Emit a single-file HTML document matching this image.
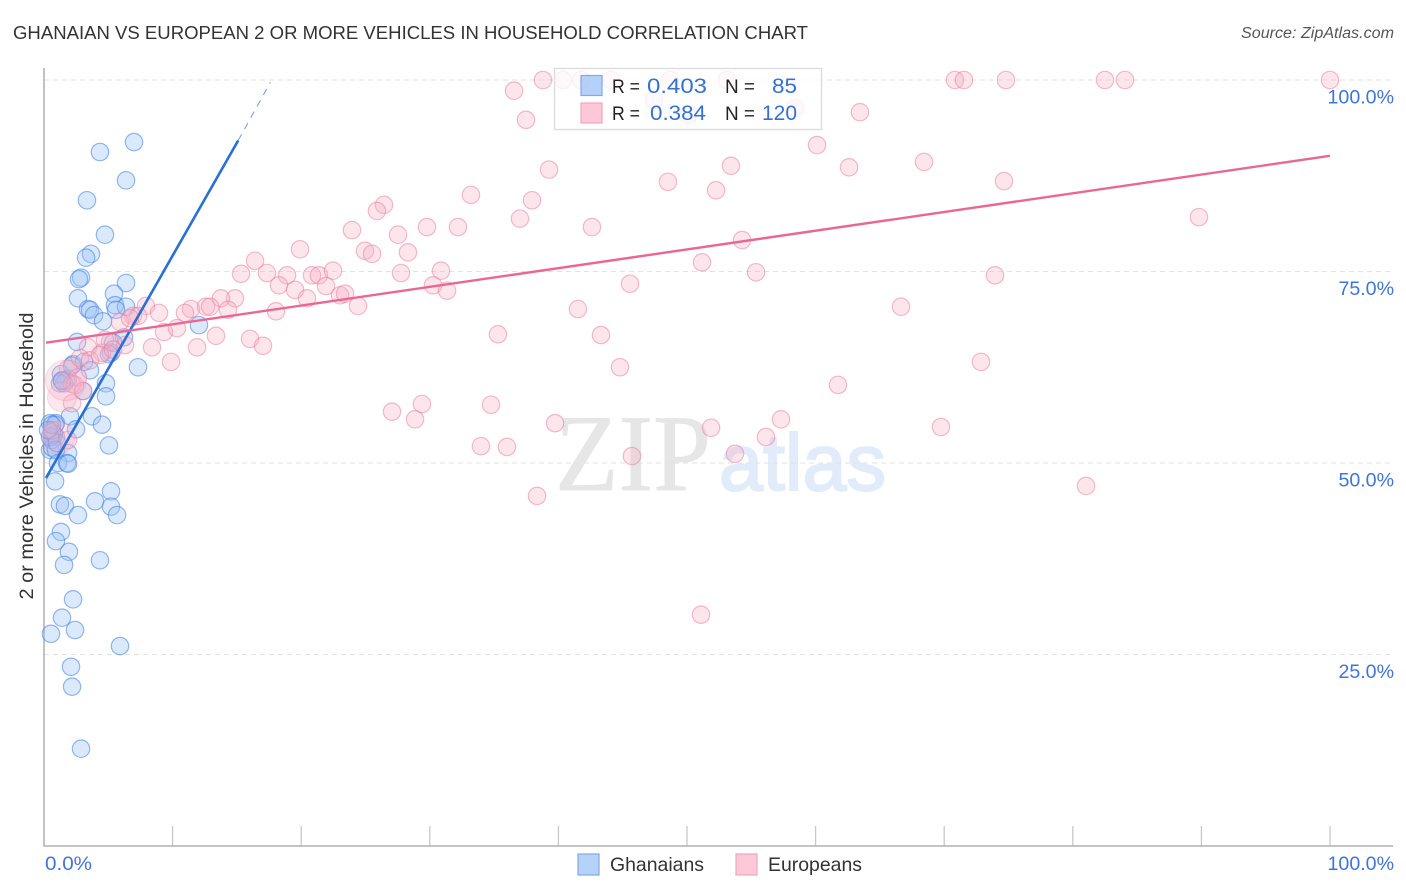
<!DOCTYPE html>
<html lang="en">
<head>
<meta charset="utf-8">
<title>Ghanaian vs European 2 or More Vehicles in Household Correlation Chart</title>
<style>
html,body{margin:0;padding:0;background:#fff;}
svg{display:block;font-family:"Liberation Sans",sans-serif;}
</style>
</head>
<body>
<svg id="chart" width="1406" height="892" viewBox="0 0 1406 892" xmlns="http://www.w3.org/2000/svg">
  <rect x="0" y="0" width="1406" height="892" fill="#fff"/>
  <text x="13" y="39" font-size="18.5" fill="#333" textLength="795" lengthAdjust="spacingAndGlyphs">GHANAIAN VS EUROPEAN 2 OR MORE VEHICLES IN HOUSEHOLD CORRELATION CHART</text>
  <text x="1241" y="38" font-size="15.5" font-style="italic" fill="#555" textLength="153" lengthAdjust="spacingAndGlyphs">Source: ZipAtlas.com</text>
  <text x="555" y="490" font-family="'Liberation Serif',serif" font-size="109" fill="#e6e6e6" stroke="#e6e6e6" stroke-width="0.8" textLength="156" lengthAdjust="spacingAndGlyphs">ZIP</text>
  <text x="719" y="490" font-size="80" fill="#e2ebfa" stroke="#e2ebfa" stroke-width="2" textLength="167" lengthAdjust="spacingAndGlyphs">atlas</text>
  <g id="grid"></g>
  <g id="axes"></g>
  <g id="marks-ghanaians"></g>
  <g id="marks-europeans"></g>
  <g id="trends"></g>
  <g id="tick-labels"></g>
  <text transform="translate(33,456) rotate(-90)" font-size="19" fill="#333" text-anchor="middle" textLength="287" lengthAdjust="spacingAndGlyphs">2 or more Vehicles in Household</text>

  <g>
    <rect x="554.5" y="68.5" width="267" height="61" fill="#fff" fill-opacity="0.78" stroke="#dddddd" stroke-width="1.4"/>
    <rect x="581" y="75.5" width="21" height="20" fill="#9cc2f7" fill-opacity="0.75" stroke="#7fa9e8" stroke-width="1.2"/>
    <rect x="581" y="103" width="21" height="20" fill="#fbbdd0" fill-opacity="0.85" stroke="#f2a5bd" stroke-width="1.2"/>
    <text x="612" y="93" font-size="19" fill="#222" textLength="28" lengthAdjust="spacingAndGlyphs">R =</text>
    <text x="647" y="93" font-size="21" fill="#3470d6" textLength="60" lengthAdjust="spacingAndGlyphs">0.403</text>
    <text x="725" y="93" font-size="19" fill="#222" textLength="30" lengthAdjust="spacingAndGlyphs">N =</text>
    <text x="772" y="93" font-size="21" fill="#3470d6" textLength="25" lengthAdjust="spacingAndGlyphs">85</text>
    <text x="612" y="120" font-size="19" fill="#222" textLength="28" lengthAdjust="spacingAndGlyphs">R =</text>
    <text x="650" y="120" font-size="21" fill="#3470d6" textLength="56" lengthAdjust="spacingAndGlyphs">0.384</text>
    <text x="725" y="120" font-size="19" fill="#222" textLength="30" lengthAdjust="spacingAndGlyphs">N =</text>
    <text x="762" y="120" font-size="21" fill="#3470d6" textLength="35" lengthAdjust="spacingAndGlyphs">120</text>
  </g>

  <g>
    <rect x="578" y="854" width="21" height="21" fill="#b5d2f9" stroke="#7fa9e8" stroke-width="1.2"/>
    <text x="610" y="871" font-size="19.5" fill="#333" textLength="94" lengthAdjust="spacingAndGlyphs">Ghanaians</text>
    <rect x="736" y="854" width="21" height="21" fill="#fdc9d9" stroke="#f2a5bd" stroke-width="1.2"/>
    <text x="768" y="871" font-size="19.5" fill="#333" textLength="94" lengthAdjust="spacingAndGlyphs">Europeans</text>
  </g>
</svg>

<script>
const yTickValues = [25, 50, 75, 100];
const yTickLabels = ["25.0%", "50.0%", "75.0%", "100.0%"];
const xTickValues = [10, 20, 30, 40, 50, 60, 70, 80, 90, 100];
const xEndValues = [0, 100];
const xEndLabels = ["0.0%", "100.0%"];

const ghanaianX = [7.0,4.35,6.38,3.34,4.74,3.65,3.27,2.88,2.72,6.38,2.64,5.44,5.52,6.38,3.42,3.58,5.6,3.89,4.59,12.05,2.57,6.22,5.37,5.21,5.05,7.31,2.26,3.11,3.58,1.32,1.87,1.24,1.71,1.56,4.82,4.82,3.03,3.73,2.02,0.93,2.49,4.51,0.47,0.86,0.62,0.7,0.93,0.47,0.62,5.05,1.87,1.09,1.79,1.87,0.86,5.21,3.97,1.24,1.63,5.21,2.64,5.68,1.32,0.93,1.94,4.35,1.56,2.26,1.4,2.41,0.54,5.91,2.1,2.18,2.88,0.62,0.78,0.47,0.93,1.01,2.18,1.4,0.31,0.62,1.4];
const ghanaianY = [91.9,90.6,86.9,84.3,79.8,77.3,76.8,74.2,74.0,73.5,71.5,72.1,70.6,70.4,70.1,70.0,70.0,69.3,68.5,68.0,65.8,66.4,65.7,64.4,64.2,62.5,62.9,63.2,62.1,61.6,61.0,60.4,60.8,60.4,60.4,58.7,59.4,56.1,56.1,55.2,54.4,55.0,55.2,55.0,54.0,53.4,53.4,51.7,52.0,52.3,51.3,50.0,50.0,49.9,47.6,46.3,45.0,44.6,44.4,44.3,43.2,43.2,41.0,39.8,38.4,37.3,36.7,32.2,29.8,28.2,27.7,26.1,23.4,20.8,12.7,53.0,53.7,53.4,51.7,52.6,62.7,60.8,54.3,55.0,60.7];

const europeanX = [38.8,40.36,41.76,44.09,48.68,53.11,70.84,71.54,74.8,82.5,84.06,100,47.43,50.08,58.4,63.45,36.55,37.48,60.11,39.27,48.52,53.42,52.26,62.6,68.43,74.65,89.81,33.2,37.95,37.01,26.44,25.89,23.95,27.53,29.78,32.19,42.61,54.28,51.17,19.91,16.41,24.96,25.51,28.3,15.32,17.34,18.9,20.84,21.38,22.47,27.76,30.87,55.37,73.95,18.27,19.52,21.93,23.02,23.41,30.25,31.34,45.57,14.85,13.76,11.43,12.6,12.91,14.31,20.45,18.04,24.42,7.93,8.94,10.96,6.92,7.31,5.91,41.52,66.64,9.33,10.34,13.37,16.02,17.03,11.9,8.4,35.3,43.31,5.13,4.51,3.42,9.88,44.79,72.86,1.87,2.8,3.58,2.64,2.18,3.03,61.74,27.06,29.39,28.85,34.76,2.18,57.31,39.74,51.87,56.14,69.75,33.98,36.0,45.72,53.73,38.34,81.03,51.09,0.62,6.3,4.74,2.41,4.35,6.69,5.37,1.87];
const europeanY = [100,100,100,100,100,100,100,100,100,100,100,100,97.4,95.4,96.3,95.8,98.6,94.8,91.5,88.3,86.7,88.8,85.6,88.6,89.3,86.8,82.1,85.0,84.3,81.9,83.7,82.9,80.4,79.8,80.8,80.8,80.8,79.1,76.2,77.9,76.4,77.7,77.3,77.5,74.7,74.8,74.5,74.5,74.5,75.1,74.8,75.1,74.9,74.5,73.2,72.6,73.1,71.9,72.1,73.2,72.5,73.4,71.5,71.5,70.1,70.4,70.4,70.0,71.5,69.8,70.5,70.5,69.6,69.6,69.2,69.2,68.4,70.1,70.4,67.1,67.6,66.6,66.2,65.3,65.1,65.1,66.8,66.7,65.8,64.4,65.1,63.2,62.5,63.2,62.3,63.7,63.4,61.2,60.3,59.4,60.2,56.7,57.7,55.7,57.6,57.8,55.7,55.2,54.6,53.4,54.7,52.2,52.1,50.9,51.2,45.7,47.0,30.2,54.3,65.4,66.1,60.2,64.1,68.9,64.8,53.0];

const europeanLargeX = [1.4, 1.09, 1.71];
const europeanLargeY = [58.6, 53.3, 60.8];
const europeanLargeSize = [2.8, 3.6, 5.5];

const ghanaianTrendX = [0.155, 15.1, 17.6];
const ghanaianTrendY = [48.04, 92.1, 99.7];
const europeanTrendX = [0.155, 100];
const europeanTrendY = [65.7, 90.1];

const NS = "http://www.w3.org/2000/svg";
const X0 = 44, X1 = 1330, Y0 = 846, Y1 = 80;
const xScale = v => X0 + (X1 - X0) * v / 100;
const yScale = v => Y0 - (Y0 - Y1) * v / 100;
const POINT_R = 8.7;

function make(tag, attrs, parent) {
  const el = document.createElementNS(NS, tag);
  for (const k in attrs) el.setAttribute(k, attrs[k]);
  parent.appendChild(el);
  return el;
}

const gridG = document.getElementById("grid");
const axesG = document.getElementById("axes");
const ghG = document.getElementById("marks-ghanaians");
const euG = document.getElementById("marks-europeans");
const trG = document.getElementById("trends");
const tlG = document.getElementById("tick-labels");

[...yTickValues].forEach(v => {
  const l = make("line", {x1: X0, x2: 1393, y1: yScale(v), y2: yScale(v), stroke: "#e2e2e2", "stroke-width": 1, "stroke-dasharray": "5 4"}, gridG);
  
  
});

xTickValues.forEach(v => {
  const t = make("line", {x1: xScale(v), x2: xScale(v), y1: 826, y2: Y0, stroke: "#c8c8c8", "stroke-width": 1.3}, axesG);
  
  
});

const yAxis = make("line", {x1: X0, x2: X0, y1: 68, y2: 846.6, stroke: "#a8a8a8", "stroke-width": 1.4}, axesG);


const xAxis = make("line", {x1: X0, x2: 1393, y1: Y0, y2: Y0, stroke: "#b0b0b0", "stroke-width": 1.4}, axesG);



ghanaianX.forEach((v, i) => {
  const c = make("circle", {cx: xScale(v), cy: yScale(ghanaianY[i]), r: POINT_R, fill: "#9cc2f6", "fill-opacity": 0.36, stroke: "#3f80e0", "stroke-opacity": 0.55, "stroke-width": 1.2}, ghG);
  
  
});

europeanX.forEach((v, i) => {
  const c = make("circle", {cx: xScale(v), cy: yScale(europeanY[i]), r: POINT_R, fill: "#f9b0c6", "fill-opacity": 0.33, stroke: "#e57b9e", "stroke-opacity": 0.5, "stroke-width": 1.2}, euG);
  
  
});

europeanLargeX.forEach((v, i) => {
  const c = make("circle", {cx: xScale(v), cy: yScale(europeanLargeY[i]), r: POINT_R * Math.sqrt(europeanLargeSize[i]), fill: "#f9b0c6", "fill-opacity": 0.3, stroke: "#e57b9e", "stroke-opacity": 0.22, "stroke-width": 1.1}, euG);
  
  
});

const ghSolid = make("line", {x1: xScale(ghanaianTrendX[0]), y1: yScale(ghanaianTrendY[0]), x2: xScale(ghanaianTrendX[1]), y2: yScale(ghanaianTrendY[1]), stroke: "#2a6fd6", "stroke-width": 2.6}, trG);


const ghDash = make("line", {x1: xScale(ghanaianTrendX[1]), y1: yScale(ghanaianTrendY[1]), x2: xScale(ghanaianTrendX[2]), y2: yScale(ghanaianTrendY[2]), stroke: "#7c9ad0", "stroke-width": 1, "stroke-dasharray": "7 6"}, trG);


const euSolid = make("line", {x1: xScale(europeanTrendX[0]), y1: yScale(europeanTrendY[0]), x2: xScale(europeanTrendX[1]), y2: yScale(europeanTrendY[1]), stroke: "#ea6794", "stroke-width": 2.4}, trG);



yTickValues.forEach((v, i) => {
  const t = make("text", {x: 1394, y: yScale(v) + 23.5, "font-size": 19.6, fill: "#3f74d8", "text-anchor": "end"}, tlG);
  t.textContent = yTickLabels[i];
  
  
});

xEndValues.forEach((v, i) => {
  const t = make("text", {x: i === 0 ? xScale(v) + 1 : 1394, y: 870, "font-size": 19.6, fill: "#3f74d8", "text-anchor": i === 0 ? "start" : "end"}, tlG);
  if (i === 0) { t.setAttribute("textLength", "47"); t.setAttribute("lengthAdjust", "spacingAndGlyphs"); }
  t.textContent = xEndLabels[i];
  
  
});
</script>
</body>
</html>
